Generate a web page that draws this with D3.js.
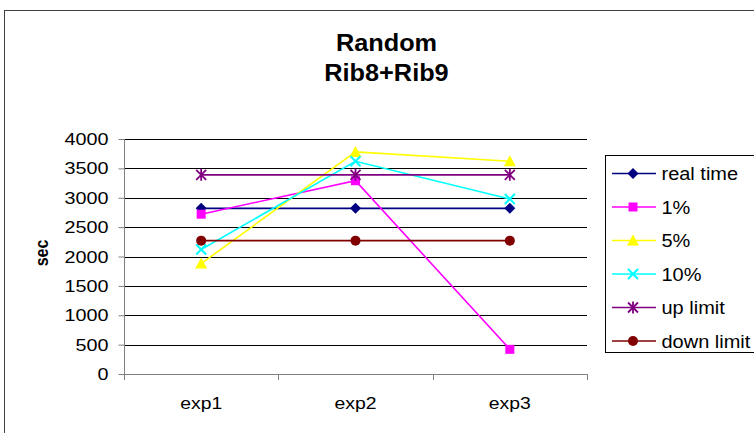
<!DOCTYPE html>
<html><head><meta charset="utf-8">
<script src="https://cdn.jsdelivr.net/npm/d3@7"></script>
<style>body{margin:0;background:#fff}svg{display:block;font-family:"Liberation Sans",Arial,sans-serif}</style>
</head><body>
<svg id="c" width="754" height="433"></svg>
<script>
const categories = ["exp1", "exp2", "exp3"];
const seriesNames = ["real time", "1%", "5%", "10%", "up limit", "down limit"];
const realTime = [2820, 2820, 2820];
const pct1 = [2720, 3290, 420];
const pct5 = [1880, 3780, 3620];
const pct10 = [2120, 3620, 2980];
const upLimit = [3390, 3390, 3390];
const downLimit = [2270, 2270, 2270];
const yTicks = [0, 500, 1000, 1500, 2000, 2500, 3000, 3500, 4000];

const seriesValues = [realTime, pct1, pct5, pct10, upLimit, downLimit];
const colors = ["#000080", "#FF00FF", "#FFFF00", "#00FFFF", "#800080", "#800000"];
const markers = ["diamond", "square", "triangle", "x", "star", "circle"];

const svg = d3.select("#c");
const FF = "'Liberation Sans',Arial,sans-serif";

// stretched text helper (reference text is horizontally stretched)
function sText(parent, x, y, str, size, sx, anchor, bold) {
  return parent.append("text")
    .attr("transform", `translate(${x},${y}) scale(${sx},1)`)
    .attr("text-anchor", anchor || "start")
    .attr("font-size", size).attr("font-family", FF)
    .attr("font-weight", bold ? "bold" : "normal")
    .attr("fill", "#000").text(str);
}

// outer frame
svg.append("rect").attr("x", 4.5).attr("y", 10.5).attr("width", 760).attr("height", 440)
  .attr("fill", "none").attr("stroke", "#404040").attr("stroke-width", 1);

const L = 124, R = 587, T = 139, B = 374;
const x = d3.scaleBand().domain(categories).range([L, R]);
const y = d3.scaleLinear().domain([0, 4000]).range([B, T]);

// title
sText(svg, 386.5, 51, "Random", 23, 1.1, "middle", true);
sText(svg, 386.5, 81, "Rib8+Rib9", 23, 1.1, "middle", true);

// gridlines
svg.append("g").selectAll("line").data(yTicks.filter(d => d > 0)).join("line")
  .attr("x1", L).attr("x2", R).attr("y1", d => Math.round(y(d)) + 0.5).attr("y2", d => Math.round(y(d)) + 0.5)
  .attr("stroke", "#000").attr("stroke-width", 1);

// y axis (ticks via d3 axis, labels drawn stretched)
const yAxis = svg.append("g").attr("transform", `translate(${L + 0.5},0)`)
  .call(d3.axisLeft(y).tickValues(yTicks).tickSize(6).tickFormat(""));
yAxis.select(".domain").attr("stroke", "#808080").attr("d", `M0,${T}V${B}`);
yAxis.selectAll(".tick line").attr("stroke", "#808080");
yAxis.selectAll(".tick text").remove();
const yLab = svg.append("g");
yTicks.forEach(v => sText(yLab, 108.5, y(v) + 6, d3.format("d")(v), 16.5, 1.2, "end", false));

// x axis
const xAxis = svg.append("g").attr("transform", `translate(0,${Math.round(B) + 0.5})`)
  .call(d3.axisBottom(x).tickSize(0).tickPadding(0).tickFormat(""));
xAxis.select(".domain").attr("stroke", "#808080").attr("d", `M${L},0H${R}`);
xAxis.selectAll(".tick").each(function (d) {
  d3.select(this).select("text").remove();
  sText(d3.select(this), 0, 34, d, 17, 1.14, "middle", false);
});
svg.append("g").selectAll("line").data([L, ...categories.map(c => x(c) + x.bandwidth())]).join("line")
  .attr("x1", d => Math.round(d) + 0.5).attr("x2", d => Math.round(d) + 0.5)
  .attr("y1", B).attr("y2", B + 6).attr("stroke", "#808080");

// y label
svg.append("text").attr("transform", `translate(48,253) scale(1.2,1) rotate(-90)`)
  .attr("text-anchor", "middle").attr("font-family", FF)
  .attr("font-weight", "bold").attr("font-size", 16).text("sec");

function drawMarker(g, type, color) {
  if (type === "diamond") g.append("path").attr("d", "M0,-5.5L5.5,0L0,5.5L-5.5,0Z").attr("fill", color);
  else if (type === "square") g.append("rect").attr("x", -4.5).attr("y", -4.5).attr("width", 9).attr("height", 9).attr("fill", color);
  else if (type === "triangle") g.append("path").attr("d", "M0,-6L6,5L-6,5Z").attr("fill", color);
  else if (type === "x") g.append("path").attr("d", "M-5,-5L5,5M5,-5L-5,5").attr("stroke", color).attr("stroke-width", 2);
  else if (type === "star") g.append("path").attr("d", "M-5,-5L5,5M5,-5L-5,5M0,-6V6").attr("stroke", color).attr("stroke-width", 1.8);
  else if (type === "circle") g.append("circle").attr("r", 5).attr("fill", color);
}

const line = d3.line().x((d, i) => x(categories[i]) + x.bandwidth() / 2).y(d => y(d));
seriesValues.forEach((vals, si) => {
  const g = svg.append("g");
  g.append("path").datum(vals).attr("d", line).attr("fill", "none")
    .attr("stroke", colors[si]).attr("stroke-width", 1.6);
  vals.forEach((v, i) => {
    const m = g.append("g").attr("transform", `translate(${x(categories[i]) + x.bandwidth() / 2},${y(v)})`);
    drawMarker(m, markers[si], colors[si]);
  });
});

// legend
const lg = svg.append("g");
lg.append("rect").attr("x", 605.5).attr("y", 155.5).attr("width", 160).attr("height", 197)
  .attr("fill", "#fff").attr("stroke", "#000");
seriesNames.forEach((n, i) => {
  const cy = 173.5 + i * 33.5;
  lg.append("line").attr("x1", 612).attr("x2", 656).attr("y1", cy).attr("y2", cy)
    .attr("stroke", colors[i]).attr("stroke-width", 1.6);
  const m = lg.append("g").attr("transform", `translate(633,${cy})`);
  drawMarker(m, markers[i], colors[i]);
  sText(lg, 661.5, cy + 6.5, n, 18.5, 1.08, "start", false);
});
</script>
</body></html>
